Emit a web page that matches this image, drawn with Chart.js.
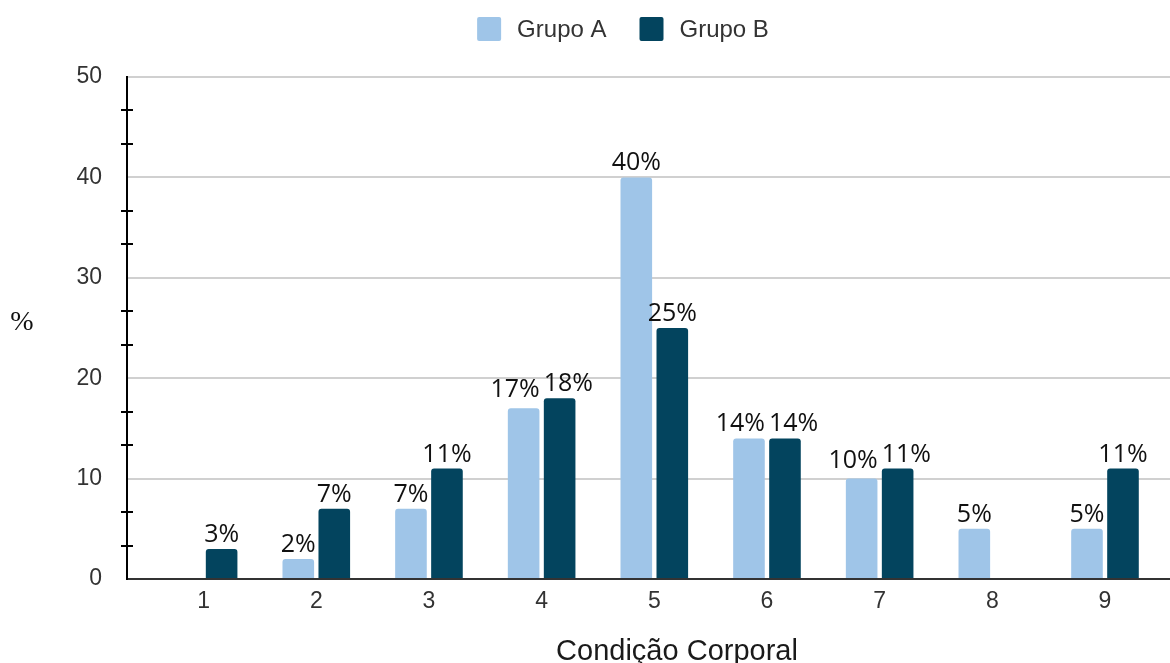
<!DOCTYPE html>
<html lang="pt">
<head>
<meta charset="utf-8">
<title>Condição Corporal</title>
<script src="https://cdn.jsdelivr.net/npm/chart.js@4.4.1/dist/chart.umd.min.js"></script>
<style>
  html, body { margin: 0; padding: 0; background: #fff; }
  canvas { display: block; }
</style>
</head>
<body>
<canvas id="chart" width="1170" height="663"></canvas>
<script>
// Body condition score (1–9) and share of animals per group, in %
const categories = [1, 2, 3, 4, 5, 6, 7, 8, 9];
const grupoA = [null, 2, 7, 17, 40, 14, 10, 5, 5];
const grupoB = [3, 7, 11, 18, 25, 14, 11, null, 11];
const seriesNames = ['Grupo A', 'Grupo B'];
const yTicks = [0, 10, 20, 30, 40, 50];
const xTitle = 'Condição Corporal';
const yTitle = '%';

const colorA = '#9fc5e8';
const colorB = '#03445e';

Chart.defaults.font.family = '"Liberation Sans", Arial, sans-serif';

// Value labels above each bar; labels of the same group that would collide are spread apart
const barLabels = {
  id: 'barLabels',
  afterDatasetsDraw(chart) {
    const { ctx } = chart;
    ctx.save();
    ctx.font = '25px "Open Sans"';
    ctx.fillStyle = '#111';
    ctx.textAlign = 'center';
    ctx.textBaseline = 'alphabetic';
    const textH = 19, gap = 4, lift = 4;
    categories.forEach((c, j) => {
      const items = [];
      chart.data.datasets.forEach((ds, i) => {
        const v = ds.data[j];
        if (v === null || v === undefined) return;
        const bar = chart.getDatasetMeta(i).data[j];
        const text = v + '%';
        items.push({ text, x: bar.x, y: bar.y - 7, w: ctx.measureText(text).width });
      });
      for (let k = 1; k < items.length; k++) {
        const a = items[k - 1], b = items[k];
        const need = (a.w + b.w) / 2 + gap;
        if (Math.abs(a.y - b.y) < textH && b.x - a.x < need) {
          const shift = (need - (b.x - a.x)) / 2;
          a.x -= shift;
          b.x += shift;
          if (a.y > b.y) a.y -= lift;
          else if (b.y > a.y) b.y -= lift;
        }
      }
      items.forEach(it => ctx.fillText(it.text, it.x, it.y));
    });
    ctx.restore();
  }
};

// Minor ticks on the value axis, axis titles and the legend row
const decor = {
  id: 'decor',
  afterDraw(chart) {
    const { ctx, chartArea } = chart;
    const y = chart.scales.y;
    ctx.save();

    ctx.strokeStyle = '#000';
    ctx.lineWidth = 2;
    for (let i = 0; i < yTicks.length - 1; i++) {
      const step = (yTicks[i + 1] - yTicks[i]) / 3;
      for (let k = 1; k < 3; k++) {
        const py = Math.round(y.getPixelForValue(yTicks[i] + k * step));
        ctx.beginPath();
        ctx.moveTo(chartArea.left - 6, py);
        ctx.lineTo(chartArea.left + 6, py);
        ctx.stroke();
      }
    }

    ctx.fillStyle = '#111';
    ctx.font = '28px "Liberation Serif"';
    ctx.textAlign = 'center';
    ctx.textBaseline = 'middle';
    ctx.fillText(yTitle, 22, (chartArea.top + chartArea.bottom) / 2 - 5);

    ctx.fillStyle = '#1a1a1a';
    ctx.font = '29px "Liberation Sans"';
    ctx.textBaseline = 'alphabetic';
    ctx.fillText(xTitle, 677, 660);

    // legend
    ctx.font = '24px "Liberation Sans"';
    const box = 24, gapText = 16, gapItem = 33;
    const widths = chart.data.datasets.map(d => ctx.measureText(d.label).width);
    const total = widths.reduce((s, w) => s + box + gapText + w, 0) + gapItem * (widths.length - 1);
    let lx = 623 - total / 2;
    chart.data.datasets.forEach((d, i) => {
      ctx.fillStyle = d.backgroundColor;
      ctx.beginPath();
      ctx.roundRect(lx, 17, box, box, 2);
      ctx.fill();
      ctx.fillStyle = '#333';
      ctx.textAlign = 'left';
      ctx.textBaseline = 'middle';
      ctx.fillText(d.label, lx + box + gapText, 30);
      lx += box + gapText + widths[i] + gapItem;
    });

    ctx.restore();
  }
};

const barStyle = {
  borderRadius: { topLeft: 3, topRight: 3 },
  borderSkipped: 'start',
  categoryPercentage: 0.639,
  barPercentage: 0.878
};

new Chart(document.getElementById('chart'), {
  type: 'bar',
  data: {
    labels: categories,
    datasets: [
      Object.assign({ label: seriesNames[0], data: grupoA, backgroundColor: colorA }, barStyle),
      Object.assign({ label: seriesNames[1], data: grupoB, backgroundColor: colorB }, barStyle)
    ]
  },
  options: {
    responsive: false,
    devicePixelRatio: 1,
    animation: false,
    layout: { padding: { top: 77, left: 0, right: 0, bottom: 0 } },
    plugins: {
      legend: { display: false },
      tooltip: { enabled: false }
    },
    scales: {
      x: {
        type: 'linear',
        min: 0.32,
        max: 9.577,
        offset: false,
        grid: { display: false, drawTicks: false },
        border: { display: true, color: '#333', width: 2 },
        ticks: {
          stepSize: 1,
          includeBounds: false,
          padding: 9,
          color: '#333',
          font: { size: 23 }
        },
        afterFit(scale) { scale.height = 84; }
      },
      y: {
        min: yTicks[0],
        max: yTicks[yTicks.length - 1],
        grid: { color: '#d0d0d0', lineWidth: 2, drawTicks: false },
        border: { display: true, color: '#000', width: 2 },
        ticks: {
          stepSize: 10,
          padding: 25,
          color: '#333',
          font: { size: 23 }
        },
        afterBuildTicks(scale) { scale.ticks = yTicks.map(v => ({ value: v })); },
        afterFit(scale) { scale.width = 127; }
      }
    }
  },
  plugins: [barLabels, decor]
});
</script>
</body>
</html>
